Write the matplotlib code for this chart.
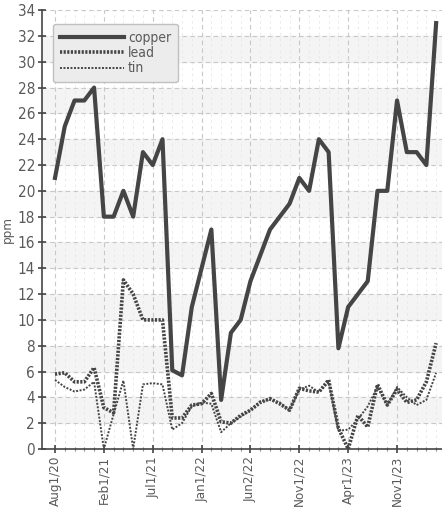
import matplotlib
matplotlib.use('Agg')
from matplotlib import pyplot as plt, font_manager as fm
import numpy as np

# data (one sample per index)
tick_labels = ['Aug1/20', 'Feb1/21', 'Jul1/21', 'Jan1/22', 'Jun2/22', 'Nov1/22', 'Apr1/23', 'Nov1/23']
tick_index = [0, 5, 10, 15, 20, 25, 30, 35]

copper = [21, 25, 27, 27, 28, 18, 18, 20, 18, 23,
          22, 24, 6.1, 5.7, 11, 14, 17, 3.8, 9, 10,
          13, 15, 17, 18, 19, 21, 20, 24, 23, 7.8,
          11, 12, 13, 20, 20, 27, 23, 23, 22, 33]
lead = [5.8, 5.9, 5.2, 5.2, 6.3, 3.2, 2.8, 13.1, 12, 10,
        10, 10, 2.4, 2.4, 3.4, 3.5, 4.3, 2.1, 2.0, 2.6,
        3.0, 3.6, 3.9, 3.5, 3.0, 4.7, 4.5, 4.4, 5.35, 1.6,
        0.0, 2.6, 1.7, 5.0, 3.4, 4.6, 3.6, 3.8, 5.2, 8.2]
tin = [5.35, 4.8, 4.45, 4.6, 5.2, 0, 2.7, 5.3, 0, 5.0,
       5.1, 5.0, 1.5, 2.0, 3.3, 3.6, 3.5, 1.3, 2.0, 2.5,
       3.0, 3.7, 3.8, 3.6, 3.0, 4.6, 4.9, 4.4, 5.2, 1.4,
       1.5, 2.3, 3.3, 4.8, 3.4, 4.8, 4.0, 3.4, 3.8, 5.9]

x = np.arange(len(copper))

# pick a condensed face by file name (family names clash with the normal faces)
files = {f.split('/')[-1].lower(): f for f in fm.findSystemFonts()}
font_file = None
for want in ['liberationsansnarrow-regular.ttf', 'dejavusanscondensed.ttf',
             'robotocondensed-regular.ttf']:
    if want in files:
        font_file = files[want]
        break

def fp(size):
    if font_file:
        return fm.FontProperties(fname=font_file, size=size)
    return fm.FontProperties(family='DejaVu Sans', size=size * 0.85)

line_col = '#454545'
txt_col = '#5a5a5a'

fig = plt.figure(figsize=(4.42, 5.09), dpi=100)
ax = fig.add_axes([0.095, 0.118, 0.905, 0.862])

# alternating light bands
for lo in range(2, 34, 4):
    ax.axhspan(lo, lo + 2, color='#f4f4f4', zorder=0)

ax.plot(x, copper, color=line_col, lw=3.0, label='copper', zorder=4)
ax.plot(x, lead, color=line_col, lw=2.6, ls=(0, (0.6, 0.4)), label='lead', zorder=3)
ax.plot(x, tin, color=line_col, lw=1.4, ls=(0, (1, 0.8)), label='tin', zorder=3)

ax.set_xlim(-1.33, 39.6)
ax.set_ylim(0, 34)
ax.set_yticks(range(0, 35, 2))
ax.set_yticklabels([str(v) for v in range(0, 35, 2)], fontproperties=fp(11))
ax.set_xticks(tick_index)
ax.set_xticklabels(tick_labels, rotation=90, fontproperties=fp(9.6))
ax.set_xticks(x, minor=True)

ax.grid(True, which='major', color='#c8c8c8', ls=(0, (4, 3)), lw=0.8)
ax.grid(True, which='minor', axis='x', color='#e6e6e6', ls=(0, (3, 4)), lw=0.6)
ax.set_axisbelow(True)

for s in ['top', 'right']:
    ax.spines[s].set_visible(False)
for s in ['left', 'bottom']:
    ax.spines[s].set_color(line_col)
    ax.spines[s].set_linewidth(1.2)

ax.tick_params(which='major', direction='inout', length=6, width=1.2, color=line_col,
               labelcolor=txt_col, pad=2)
ax.tick_params(which='minor', direction='inout', length=3, width=0.8, color='#888888')
ax.set_ylabel('ppm', color=txt_col, fontproperties=fp(9.5), labelpad=3)

leg = ax.legend(loc='upper left', bbox_to_anchor=(0.01, 0.985), handlelength=4.6,
                handletextpad=0.3, labelspacing=0.1, prop=fp(10), fancybox=True,
                framealpha=1, borderpad=0.5)
leg.get_frame().set_facecolor('#ececec')
leg.get_frame().set_edgecolor('#c0c0c0')
for t in leg.get_texts():
    t.set_color(txt_col)

plt.savefig('out.png', dpi=100)
